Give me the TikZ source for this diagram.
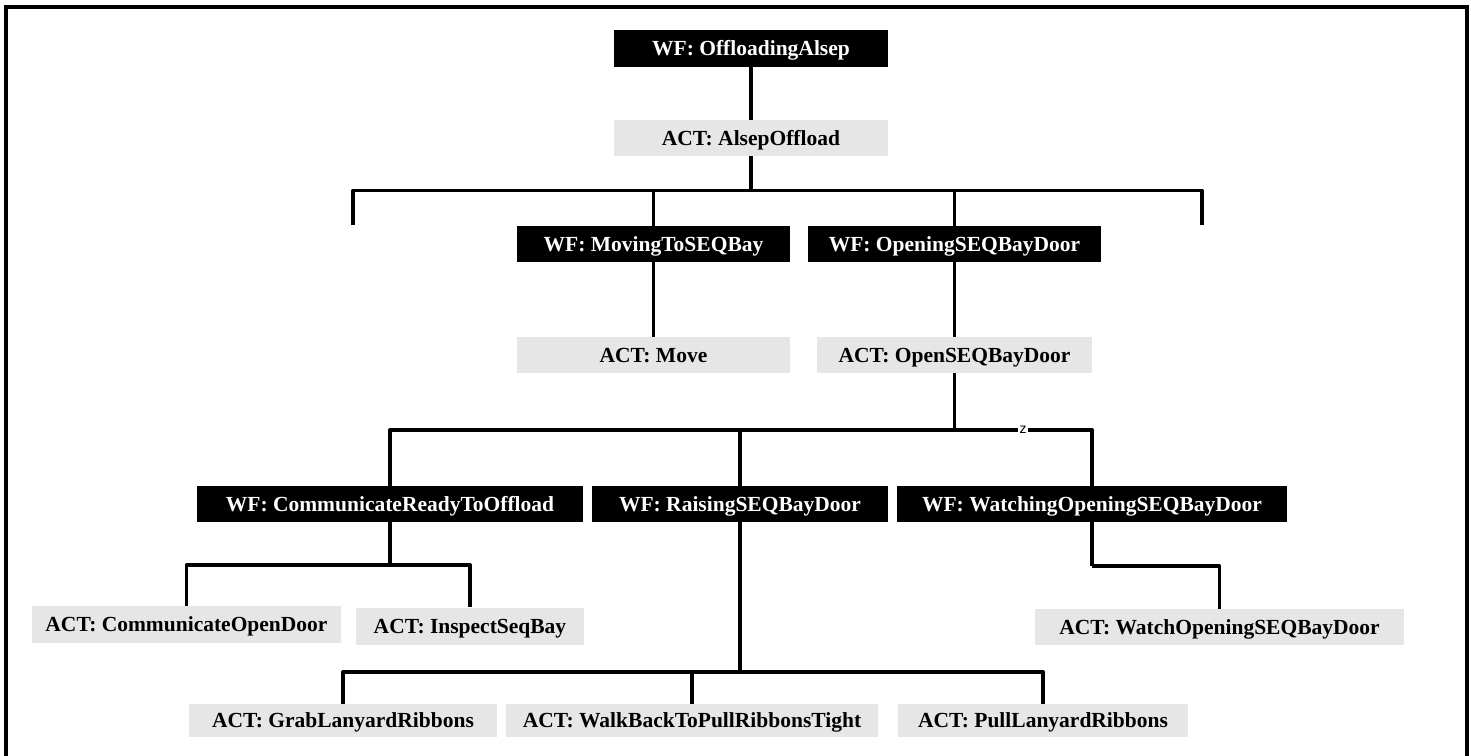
\documentclass[tikz,border=0pt]{standalone}
\usepackage{fontspec}
\setmainfont{Liberation Serif}
\newfontfamily\zfont{Liberation Sans}
\pgfdeclarelayer{bg}
\pgfsetlayers{bg,main}
\definecolor{actgray}{HTML}{E6E6E6}
\begin{document}
\begin{tikzpicture}[x=1pt,y=-1pt,
  boxbase/.style={inner sep=0pt,minimum height=36pt,text height=14pt,text depth=0pt,font=\fontsize{21.5}{24}\selectfont\bfseries},
  wfbox/.style={boxbase,fill=black,text=white},
  actbox/.style={boxbase,fill=actgray,text=black},
  conn/.style={line width=3.4pt,line join=round},
  frame/.style={line width=3.4pt}]
\useasboundingbox (0,0) rectangle (1471,755);
% nodes
\node[wfbox,minimum width=274pt,minimum height=37pt] (wf1) at (751,48.5) {WF: OffloadingAlsep};
\node[actbox,minimum width=274pt] (act1) at (751,138) {ACT: AlsepOffload};
\node[wfbox,minimum width=273pt] (wf2) at (653.5,244) {WF: MovingToSEQBay};
\node[wfbox,minimum width=293pt] (wf3) at (954.5,244) {WF: OpeningSEQBayDoor};
\node[actbox,minimum width=273pt] (act2) at (653.5,355) {ACT: Move};
\node[actbox,minimum width=275pt] (act3) at (954.5,355) {ACT: OpenSEQBayDoor};
\node[wfbox,minimum width=386pt] (wf4) at (390,504) {WF: CommunicateReadyToOffload};
\node[wfbox,minimum width=296pt] (wf5) at (740,504) {WF: RaisingSEQBayDoor};
\node[wfbox,minimum width=390pt] (wf6) at (1092,504) {WF: WatchingOpeningSEQBayDoor};
\node[actbox,minimum width=309pt,minimum height=37pt] (act4) at (186.5,624.5) {ACT: CommunicateOpenDoor};
\node[actbox,minimum width=228pt,minimum height=37pt] (act5) at (470,626) {ACT: InspectSeqBay};
\node[actbox,minimum width=369pt] (act6) at (1219.5,627) {ACT: WatchOpeningSEQBayDoor};
\node[actbox,minimum width=308pt,minimum height=33pt] (act7) at (343,720.5) {ACT: GrabLanyardRibbons};
\node[actbox,minimum width=372pt,minimum height=33pt] (act8) at (692,720.5) {ACT: WalkBackToPullRibbonsTight};
\node[actbox,minimum width=290pt,minimum height=33pt] (act9) at (1043,720.5) {ACT: PullLanyardRibbons};
% junctions and free ends
\coordinate (j1) at (751,190.5);
\coordinate (e1) at (353,225);
\coordinate (e2) at (1202,225);
\coordinate (j2) at (954.5,430);
\coordinate (j3) at (390,565);
\coordinate (j4) at (1092,566);
\coordinate (j5) at (740,672);
\node[fill=white,inner sep=1.5pt,font=\fontsize{14}{15}\selectfont\zfont] (zl) at (1023,430) {z};
\begin{pgfonlayer}{bg}
\draw[frame] (6,760) -- (6,7) -- (1467,7) -- (1467,760);
\draw[conn] (wf1) -- (act1);
\draw[conn] (act1) -- (j1);
\draw[conn] (j1) -| (e1);
\draw[conn] (j1) -| (e2);
\draw[conn] (j1) -| (wf2.north);
\draw[conn] (j1) -| (wf3.north);
\draw[conn] (wf2) -- (act2);
\draw[conn] (wf3) -- (act3);
\draw[conn] (act3) -- (j2);
\draw[conn] (j2) -| (wf4.north);
\draw[conn] (j2) -| (wf5.north);
\draw[conn] (j2) -| (wf6.north);
\draw[conn] (wf4) -- (j3);
\draw[conn] (j3) -| (act4.north);
\draw[conn] (j3) -| (act5.north);
\draw[conn] (wf6) -- (j4);
\draw[conn] (j4) -| (act6.north);
\draw[conn] (wf5) -- (j5);
\draw[conn] (j5) -| (act7.north);
\draw[conn] (j5) -| (act8.north);
\draw[conn] (j5) -| (act9.north);
\end{pgfonlayer}
\end{tikzpicture}
\end{document}
